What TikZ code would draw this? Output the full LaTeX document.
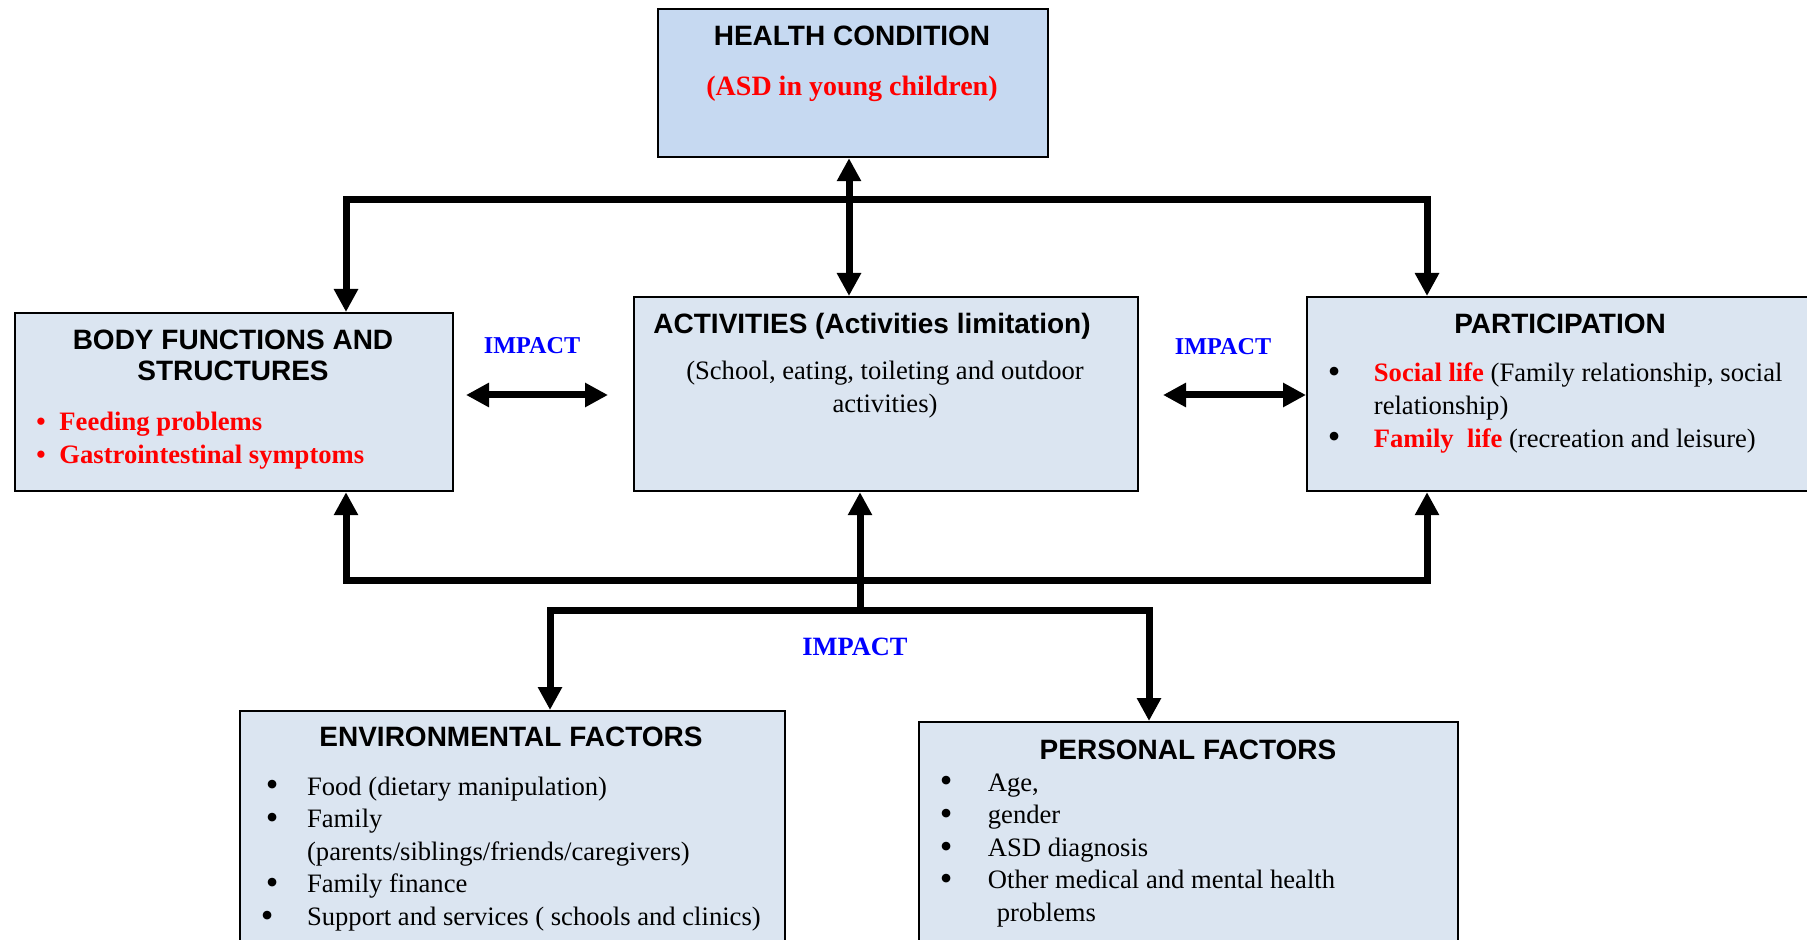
\documentclass[tikz,border=0pt]{standalone}
\usepackage{fontspec}
\setmainfont{Liberation Serif}
\setsansfont{Liberation Sans}
\usetikzlibrary{arrows.meta}
\definecolor{hcfill}{HTML}{C6D9F1}
\definecolor{boxfill}{HTML}{DBE5F1}
% larger list bullet for the factor lists
\newcommand\listdot{\raisebox{-0.9pt}{\fontsize{18}{18}\selectfont\textbullet}}
\begin{document}
\begin{tikzpicture}[x=0.5pt,y=-0.5pt,
  panel/.style={draw=black, line width=1.1pt, fill=boxfill, rectangle,
    inner sep=0pt, anchor=north west},
  conn/.style={line width=3.5pt, line join=miter, line cap=butt},
  bigtip/.tip={Triangle[length=11.5pt,width=11.5pt]},
  head/.style={font=\sffamily\bfseries\fontsize{14}{15.5}\selectfont,
    inner sep=0pt, anchor=base},
  body/.style={font=\fontsize{13.3}{16.3}\selectfont, inner sep=0pt},
  redbody/.style={font=\bfseries\fontsize{13.3}{16.5}\selectfont, text=red,
    inner sep=0pt},
  impact/.style={font=\bfseries\fontsize{12.1}{14}\selectfont, text=blue,
    inner sep=0pt, anchor=base}]
\clip (0,0) rectangle (1807,940);

% boxes
\node[panel, fill=hcfill, minimum width=195pt, minimum height=74pt] (hc) at (657,8) {};
\node[panel, minimum width=219pt, minimum height=89pt] (bf) at (14,312) {};
\node[panel, minimum width=252pt, minimum height=97pt] (ac) at (633,296) {};
\node[panel, minimum width=260pt, minimum height=97pt] (pa) at (1306,296) {};
\node[panel, minimum width=272.5pt, minimum height=130pt] (ef) at (239,710) {};
\node[panel, minimum width=269.5pt, minimum height=130pt] (pf) at (918,721) {};

% health condition
\node[head] (hcT) at (852,46) {HEALTH CONDITION};
\node[inner sep=0pt, anchor=base, text=red, font=\bfseries\fontsize{14}{16}\selectfont]
  (hcS) at (852,96) {(ASD in young children)};

% body functions and structures
\node[head] (bfT) at (233,350)
  {\begin{tabular}[t]{@{}c@{}}BODY FUNCTIONS AND\\STRUCTURES\end{tabular}};
\node[redbody, anchor=base west] (bfL) at (36,430)
  {\begin{tabular}[t]{@{}l@{\hspace{6.9pt}}l@{}}
   \textbullet & Feeding problems\\
   \textbullet & Gastrointestinal symptoms
   \end{tabular}};

% activities
\node[head] (acT) at (872,334) {ACTIVITIES (Activities limitation)};
\node[body, anchor=base] (acS) at (885,380)
  {\begin{tabular}[t]{@{}c@{}}(School, eating, toileting and outdoor\\activities)\end{tabular}};

% participation
\node[head] (paT) at (1560,334) {PARTICIPATION};
\node[body, anchor=base west] (paL) at (1327.5,382)
  {\begin{tabular}[t]{@{}l@{\hspace{16.7pt}}l@{}}
   \listdot & \textcolor{red}{\textbf{Social life}} (Family relationship, social\\
   & relationship)\\
   \listdot & \textcolor{red}{\textbf{Family\ \ life}} (recreation and leisure)
   \end{tabular}};

% environmental factors
\node[head] (efT) at (511,746) {ENVIRONMENTAL FACTORS};
\node[body, anchor=base west] (efL) at (265.5,795)
  {\begin{tabular}[t]{@{}l@{\hspace{14.3pt}}l@{}}
   \listdot & Food (dietary manipulation)\\
   \listdot & Family\\
   & (parents/siblings/friends/caregivers)\\
   \listdot & Family finance\\
   \hspace*{-2.5pt}\listdot & Support and services ( schools and clinics)
   \end{tabular}};

% personal factors
\node[head] (pfT) at (1188,759) {PERSONAL FACTORS};
\node[body, anchor=base west] (pfL) at (939.5,791)
  {\begin{tabular}[t]{@{}l@{\hspace{17.7pt}}l@{}}
   \listdot & Age,\\
   \listdot & gender\\
   \listdot & ASD diagnosis\\
   \listdot & Other medical and mental health\\
   & \hspace*{4.5pt}problems
   \end{tabular}};

% impact labels
\node[impact] (imL) at (532,354) {IMPACT};
\node[impact] (imR) at (1223,355) {IMPACT};
\node[impact, font=\bfseries\fontsize{13.2}{15}\selectfont] (imB) at (855,655) {IMPACT};

% upper distribution from the health condition
\coordinate (tl) at (346,200);
\coordinate (tr) at (1427,200);
\coordinate (tc) at (849,200);
\draw[conn, bigtip-bigtip] (tl |- bf.north) -- (tl) -- (tr) -- (tr |- pa.north);
\draw[conn, bigtip-bigtip] (tc |- hc.south) -- (tc |- ac.north);

% lower distribution from the contextual factors
\coordinate (bl) at (346,580);
\coordinate (br) at (1427,580);
\draw[conn, bigtip-bigtip] (bl |- bf.south) -- (bl) -- (br) -- (br |- pa.south);
\coordinate (hub) at (860,610);
\draw[conn, -bigtip] (hub) -- (hub |- ac.south);
\coordinate (el) at (550,610);
\coordinate (er) at (1149,610);
\draw[conn, bigtip-bigtip] (el |- ef.north) -- (el) -- (er) -- (er |- pf.north);

% side impacts
\coordinate (la) at (466,395);
\coordinate (lb) at (608,395);
\draw[conn, bigtip-bigtip] (la) -- (lb);
\coordinate (ra) at (1163,395);
\draw[conn, bigtip-bigtip] (ra) -- (ra -| pa.west);
\end{tikzpicture}
\end{document}
